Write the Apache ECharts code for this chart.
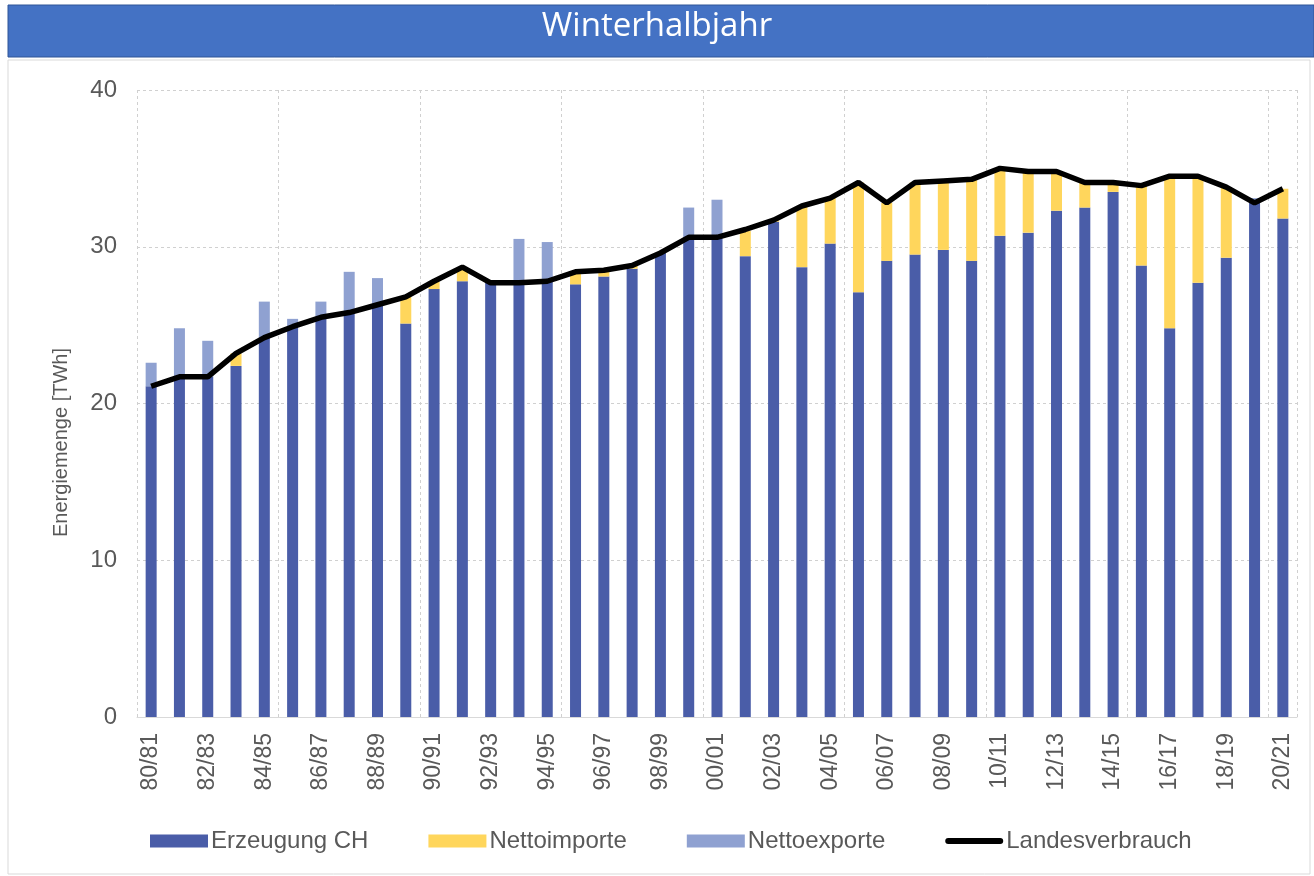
<!DOCTYPE html>
<html>
<head>
<meta charset="utf-8">
<script src="https://cdn.jsdelivr.net/npm/echarts@6/dist/echarts.min.js"></script>
<style>
html,body{margin:0;padding:0;background:#fff;}
#chart{width:1314px;height:876px;}
</style>
</head>
<body>
<div id="chart"></div>
<script>
const categories = ['80/81','81/82','82/83','83/84','84/85','85/86','86/87','87/88','88/89','89/90',
  '90/91','91/92','92/93','93/94','94/95','95/96','96/97','97/98','98/99','99/00',
  '00/01','01/02','02/03','03/04','04/05','05/06','06/07','07/08','08/09','09/10',
  '10/11','11/12','12/13','13/14','14/15','15/16','16/17','17/18','18/19','19/20','20/21'];
const erzeugung = [21.1,21.7,21.7,22.4,24.2,24.9,25.5,25.8,26.3,25.1,
  27.3,27.8,27.7,27.7,27.8,27.6,28.1,28.6,29.6,30.6,
  30.6,29.4,31.6,28.7,30.2,27.1,29.1,29.5,29.8,29.1,
  30.7,30.9,32.3,32.5,33.5,28.8,24.8,27.7,29.3,32.8,31.8];
const nettoimporte = [0,0,0,0.8,0,0,0,0,0,1.7,
  0.5,0.9,0,0,0,0.8,0.4,0.2,0,0,
  0,1.6,0.1,3.9,2.9,7.0,3.7,4.6,4.3,5.2,
  4.3,3.9,2.5,1.6,0.5,5.1,9.7,6.8,4.5,0,1.9];
const nettoexporte = [1.5,3.1,2.3,0,2.3,0.5,1.0,2.6,1.7,0,
  0,0,0,2.8,2.5,0,0,0,0,1.9,
  2.4,0,0,0,0,0,0,0,0,0,
  0,0,0,0,0,0,0,0,0,0.3,0];
const landesverbrauch = [21.1,21.7,21.7,23.2,24.2,24.9,25.5,25.8,26.3,26.8,
  27.8,28.7,27.7,27.7,27.8,28.4,28.5,28.8,29.6,30.6,
  30.6,31.1,31.7,32.6,33.1,34.1,32.8,34.1,34.2,34.3,
  35.0,34.8,34.8,34.1,34.1,33.9,34.5,34.5,33.8,32.8,33.7];
const yTicks = [0,10,20,30,40];

const chart = echarts.init(document.getElementById('chart'));
const grayText = '#595959';
const fontFam = '"Liberation Sans", Arial, sans-serif';
chart.setOption({
  backgroundColor: '#ffffff',
  animation: false,
  graphic: [
    {type:'rect', shape:{x:8,y:60,width:1302,height:814}, style:{fill:'none', stroke:'#d9d9d9', lineWidth:1}, z:-10},
    {type:'rect', shape:{x:8,y:5,width:1306,height:52}, style:{fill:'#4472c4', stroke:'#2f5597', lineWidth:1}, z:-5},
    {type:'text', left:'center', top:10, style:{text:'Winterhalbjahr', fill:'#ffffff', font:'33px "Open Sans", sans-serif'}, z:10}
  ],
  legend: {
    bottom: 18,
    left: 145,
    itemWidth: 58,
    itemHeight: 13,
    itemGap: 60,
    textStyle: {color: grayText, fontSize: 24, fontFamily: fontFam, padding:[0,0,0,-2]},
    data: [
      {name:'Erzeugung CH', icon:'rect'},
      {name:'Nettoimporte', icon:'rect'},
      {name:'Nettoexporte', icon:'rect'},
      {name:'Landesverbrauch',
       icon:'path://M0,0 L0,0.001 Z M3,3.5 L55,3.5 A3,3 0 0 1 55,9.5 L3,9.5 A3,3 0 0 1 3,3.5 Z M58,13 L58,12.999 Z',
       itemStyle:{color:'#000000', borderWidth:0}}
    ]
  },
  grid: {left: 137, right: 17, top: 90, bottom: 159},
  xAxis: {
    type: 'category',
    data: categories,
    axisLine: {lineStyle: {color: '#d9d9d9'}},
    axisTick: {show: false},
    axisLabel: {interval: 1, rotate: 90, color: grayText, fontSize: 23, fontFamily: fontFam, margin: 16},
    splitLine: {show: true, interval: 4, lineStyle: {color: '#d0d0d0', type: [3,3]}}
  },
  yAxis: {
    type: 'value',
    min: 0, max: 40, interval: 10,
    name: 'Energiemenge [TWh]',
    nameLocation: 'middle',
    nameGap: 66,
    nameTextStyle: {color: grayText, fontSize: 20, fontFamily: fontFam, padding: [0, 78, 0, 0]},
    axisLine: {show: false},
    axisTick: {show: false},
    axisLabel: {color: grayText, fontSize: 24, fontFamily: fontFam, margin: 20},
    splitLine: {lineStyle: {color: '#d0d0d0', type: [3,3]}}
  },
  series: [
    {name:'Erzeugung CH', type:'bar', stack:'s', data: erzeugung, barWidth: 11, itemStyle:{color:'#4a5da8'}},
    {name:'Nettoimporte', type:'bar', stack:'s', data: nettoimporte, itemStyle:{color:'#ffd65c'}},
    {name:'Nettoexporte', type:'bar', stack:'s', data: nettoexporte, itemStyle:{color:'#8fa1d1'}},
    {name:'Landesverbrauch', type:'line', data: landesverbrauch, symbol:'none', z:5,
      lineStyle:{color:'#000000', width:5.5}, itemStyle:{color:'#000000'}}
  ]
});
</script>
</body>
</html>
